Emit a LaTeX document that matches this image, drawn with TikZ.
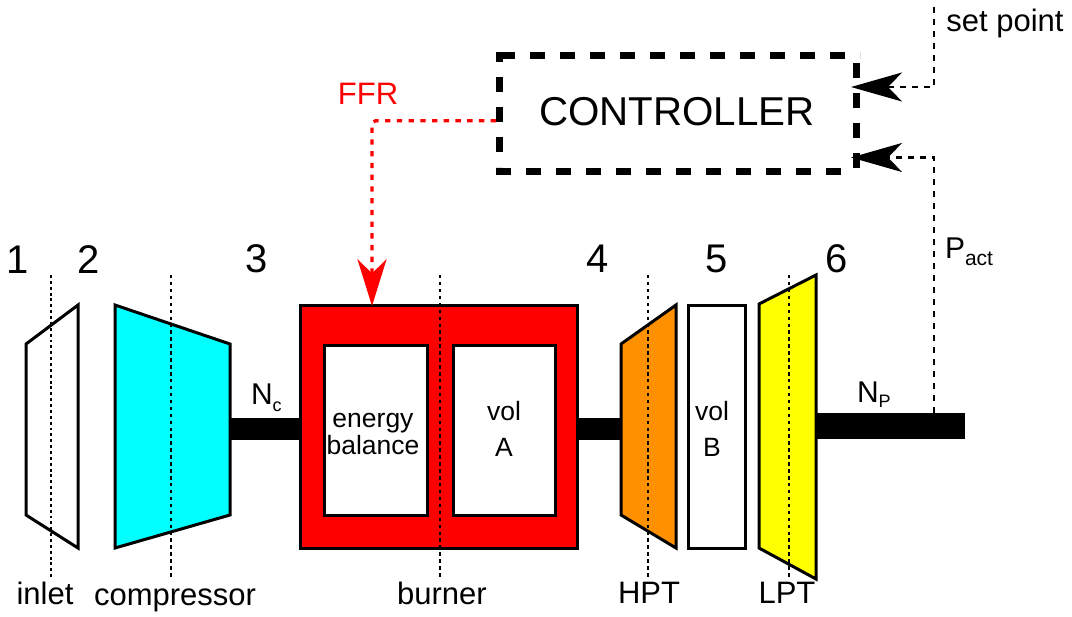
\documentclass[tikz,border=0pt]{standalone}
\usepackage{fontspec}
\setmainfont{Liberation Sans}
\usetikzlibrary{arrows.meta}
\newcommand{\fpx}[1]{\fontsize{\dimexpr#1pt*3/4\relax}{\dimexpr#1pt*9/10\relax}\selectfont}
\newcommand{\subtxt}[3][18]{\raisebox{-#2pt}{\fpx{#1}#3}}
\definecolor{ccyan}{RGB}{0,255,255}
\definecolor{cyellow}{RGB}{255,255,0}
\definecolor{corange}{RGB}{255,144,0}
\definecolor{cred}{RGB}{255,0,0}
\tikzset{
  x=0.75pt,y=-0.75pt,
  part/.style={draw=black,line width=2.25pt,line join=miter},
  boxnode/.style={part,fill=white,inner sep=0pt,outer sep=0pt,anchor=north west,align=center},
  shaft/.style={fill=black,draw=none},
  station/.style={black,line width=1.2pt,dash pattern=on 2.2pt off 2.2pt},
  stationB/.style={black,line width=1.6pt,dash pattern=on 2.6pt off 2.6pt},
  txt/.style={inner sep=0pt,outer sep=0pt,anchor=base,text=black},
  num/.style={txt,font=\fpx{40}},
  lab/.style={txt,font=\fpx{31}},
  inner/.style={txt,font=\fpx{26.5}},
  signal/.style={black,line width=2pt,dash pattern=on 4.5pt off 4.5pt},
  ffr/.style={cred,line width=2.5pt,dash pattern=on 4pt off 4.8pt},
  blacktip/.style={-{Stealth[length=38.25pt,width=21.75pt,inset=10.5pt]}},
  redtip/.style={-{Stealth[length=35pt,width=21.75pt,inset=10.5pt]}},
  ctrlside/.style={black,line width=5.25pt,dash pattern=on 11.25pt off 11.25pt,line cap=butt},
}
\begin{document}
\begin{tikzpicture}
\useasboundingbox (0,0) rectangle (1072,617);
% shafts
\fill[shaft] (230,418) rectangle (301,440);
\fill[shaft] (578,418) rectangle (622,440);
\fill[shaft] (816,413) rectangle (965,439);
% turbomachinery
\draw[part,fill=white] (26,344) -- (78,305) -- (78,548) -- (26,515) -- cycle;
\draw[part,fill=ccyan] (115,305) -- (230,344) -- (230,515) -- (115,548) -- cycle;
\draw[part,fill=corange] (621,344) -- (676,305) -- (676,548) -- (621,515) -- cycle;
\draw[part,fill=cyellow] (759,304) -- (816,275) -- (816,579) -- (759,548) -- cycle;
% burner and volumes
\node[boxnode,fill=cred,minimum width=207.75pt,minimum height=182.25pt] (burner) at (300.5,305) {};
\node[boxnode,minimum width=77.25pt,minimum height=127.5pt] (energy) at (324,345) {};
\node[boxnode,minimum width=76.5pt,minimum height=127.5pt] (vola) at (453,345) {};
\node[boxnode,minimum width=42.75pt,minimum height=182.25pt] (volb) at (688,305) {};
% station lines
\draw[station] (51,275) -- (51,579);
\draw[stationB] (171,275) -- (171,579);
\draw[stationB] (440,275) -- (440,579);
\draw[stationB] (648,275) -- (648,579);
\draw[stationB] (789,275) -- (789,579);
% controller
\draw[ctrlside] (500,55.5) -- (860,55.5);
\draw[ctrlside,dash phase=3.75pt] (499.5,52) -- (499.5,167);
\draw[ctrlside] (856,63) -- (856,168);
\draw[ctrlside] (496,171) -- (845,171);
\node[txt,font=\fpx{40.3}] (ctrllabel) at (677,126) {CONTROLLER};
% signals
\coordinate (spstart) at (934,7);
\coordinate (spcorner) at (934,87);
\coordinate (spend) at (851,87);
\coordinate (pstart) at (934,413);
\coordinate (pcorner) at (934,157.5);
\coordinate (pend) at (851,157.5);
\coordinate (ffrstart) at (496,120.7);
\coordinate (ffrcorner) at (372,120.7);
\coordinate (ffrend) at (372,306);
\draw[signal,blacktip] (spstart) -- (spcorner) -- (spend);
\draw[signal,blacktip] (pstart) -- (pcorner) -- (pend);
\draw[ffr,redtip,rounded corners=3pt] (ffrstart) -- (ffrcorner) -- (ffrend);
% labels
\node[num] (n1) at (17.5,273) {1};
\node[num] (n2) at (88.5,273) {2};
\node[num] (n3) at (256.5,272) {3};
\node[num] (n4) at (597.5,272) {4};
\node[num] (n5) at (716.5,272) {5};
\node[num] (n6) at (836.5,272) {6};
\node[lab] (linlet) at (45,604) {inlet};
\node[lab] (lcomp) at (175,605) {compressor};
\node[lab] (lburn) at (442,604) {burner};
\node[lab] (lhpt) at (649,603) {HPT};
\node[lab] (llpt) at (787,603) {LPT};
\node[lab] (lset) at (1005,32) {set point};
\node[lab,text=cred] (lffr) at (368,105) {FFR};
\node[txt,font=\fpx{30},anchor=base west] (lnc) at (251,404) {N\subtxt{5.5}{c}};
\node[txt,font=\fpx{30},anchor=base west] (lnp) at (857,402) {N\subtxt{4}{P}};
\node[txt,font=\fpx{30},anchor=base west] (lpact) at (945,258) {P\subtxt[21]{5.5}{act}};
\node[inner] (le) at (373,427) {energy};
\node[inner] (lb) at (373,454) {balance};
\node[inner] (lv) at (504,420) {vol};
\node[inner] (la) at (504,456) {A};
\node[inner] (lv2) at (712,420) {vol};
\node[inner] (lb2) at (712,456) {B};
\end{tikzpicture}
\end{document}
